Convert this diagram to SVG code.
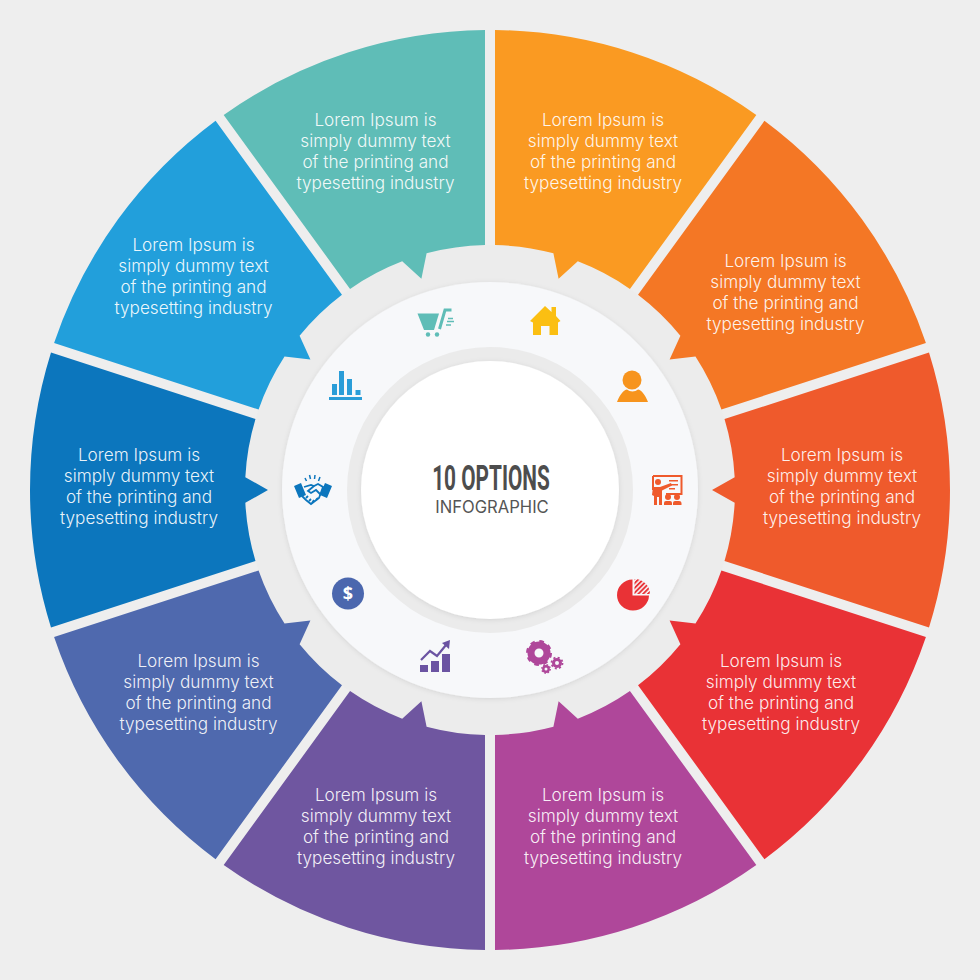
<svg xmlns="http://www.w3.org/2000/svg" width="980" height="980" viewBox="0 0 980 980">
<style>
.t{font-family:"Inter","Liberation Sans",sans-serif;font-size:17.2px;font-weight:300;fill:#fff;fill-opacity:.92;text-anchor:middle}
</style>
<defs>
<path id="seg" d="M495 245.05 L495 30.03 A460 460 0 0 1 756.32 114.94 L629.94 288.89 A245 245 0 0 0 577.8 261.27 L558.6 278.86 L553.41 253.35 A245 245 0 0 0 495 245.05 Z"/>
<filter id="sh" x="-10%" y="-10%" width="120%" height="120%"><feDropShadow dx="0" dy="1" stdDeviation="2.5" flood-color="#000" flood-opacity=".1"/></filter>
<pattern id="hatch" width="3.4" height="3.4" patternUnits="userSpaceOnUse" patternTransform="rotate(-45)"><rect width="3.4" height="1.9" fill="#e93236"/></pattern>
</defs>
<rect width="980" height="980" fill="#eeeeee"/>
<g id="hub">
<circle cx="490" cy="490" r="245" fill="#ececec"/>
<circle cx="490" cy="490" r="208" fill="#f7f8fa" filter="url(#sh)"/>
<circle cx="490" cy="490" r="143" fill="#ebebeb"/>
<circle cx="490" cy="490" r="129" fill="#fff" filter="url(#sh)"/>
<text x="491" y="490" font-family="Roboto,'Liberation Sans',sans-serif" font-weight="700" font-size="35" fill="#4d4d4d" text-anchor="middle" transform="translate(491 0) scale(.595 1) translate(-491 0)">10 OPTIONS</text>
<text x="492" y="513" font-family="Inter,'Liberation Sans',sans-serif" font-size="16.6" fill="#555" text-anchor="middle">INFOGRAPHIC</text>
</g>
<g id="option-1">
<use href="#seg" fill="#fa9a22"/>
<text class="t"><tspan x="603" y="126">Lorem Ipsum is</tspan><tspan x="603" y="147">simply dummy text</tspan><tspan x="603" y="168">of the printing and</tspan><tspan x="603" y="189">typesetting industry</tspan></text>
<path fill="#fbbf12" d="M545 306 L551.5 312 V307 H556 V316 L560.5 321 L558 322.5 V335 H549.5 V326 H541 V335 H533 V322.5 L530 321 Z"/>
</g>
<g id="option-2">
<use href="#seg" transform="rotate(36 490 490)" fill="#f47725"/>
<text class="t"><tspan x="785.5" y="267">Lorem Ipsum is</tspan><tspan x="785.5" y="288">simply dummy text</tspan><tspan x="785.5" y="309">of the printing and</tspan><tspan x="785.5" y="330">typesetting industry</tspan></text>
<g fill="#f7941d"><circle cx="632" cy="380" r="9.5"/><path d="M617 402 C620 394 624 390 627 389.500 C630 392 635 392 638 389.500 C641 390 645 394 648 402 Z"/></g>
</g>
<g id="option-3">
<use href="#seg" transform="rotate(72 490 490)" fill="#ef5a2c"/>
<text class="t"><tspan x="842" y="460.500">Lorem Ipsum is</tspan><tspan x="842" y="481.500">simply dummy text</tspan><tspan x="842" y="502.500">of the printing and</tspan><tspan x="842" y="523.500">typesetting industry</tspan></text>
<g fill="#ef5a2c">
<path d="M653 476 V490 M653 476 H681.500 V494 H666" fill="none" stroke="#ef5a2c" stroke-width="2"/>
<circle cx="658" cy="482" r="3"/>
<path d="M653 487 H660 L671 483 L672 485.500 L662 490.500 V505 H659 V497 H657 V505 H654 V496 L652 495 Z"/>
<rect x="669" y="480" width="9" height="1.500"/><rect x="669" y="484" width="9" height="1.500"/><rect x="669" y="488" width="6" height="1.500"/>
<circle cx="668" cy="497" r="3"/><circle cx="677" cy="497" r="3"/>
<path d="M664 505 V503 Q664 501 666 501 H670 Q672 501 672 503 V505 Z M673 505 V503 Q673 501 675 501 H679 Q681.500 501 681.500 503 V505 Z"/>
</g>
</g>
<g id="option-4">
<use href="#seg" transform="rotate(108 490 490)" fill="#e93236"/>
<text class="t"><tspan x="781" y="667">Lorem Ipsum is</tspan><tspan x="781" y="688">simply dummy text</tspan><tspan x="781" y="709">of the printing and</tspan><tspan x="781" y="730">typesetting industry</tspan></text>
<path fill="#e93236" d="M632.500 579.500 V595.500 H649 A16 15.500 0 1 1 632.500 579.500 Z"/>
<path fill="url(#hatch)" d="M634.500 579 A15.500 15.500 0 0 1 650 594 H634.500 Z"/>
</g>
<g id="option-5">
<use href="#seg" transform="rotate(144 490 490)" fill="#af479a"/>
<text class="t"><tspan x="603" y="801">Lorem Ipsum is</tspan><tspan x="603" y="822">simply dummy text</tspan><tspan x="603" y="843">of the printing and</tspan><tspan x="603" y="864">typesetting industry</tspan></text>
<g fill="none" stroke="#af479a">
<circle cx="539" cy="653" r="8" stroke-width="7"/>
<circle cx="539" cy="653" r="11.500" stroke-width="3" stroke-dasharray="4.500 4.530"/>
<circle cx="557" cy="663" r="3.500" stroke-width="3"/>
<circle cx="557" cy="663" r="5.500" stroke-width="1.800" stroke-dasharray="2 2.320"/>
<circle cx="546" cy="669" r="2.700" stroke-width="2.400"/>
<circle cx="546" cy="669" r="4.200" stroke-width="1.500" stroke-dasharray="1.500 1.800"/>
</g>
</g>
<g id="option-6">
<use href="#seg" transform="rotate(180 490 490)" fill="#6f56a0"/>
<text class="t"><tspan x="376" y="801">Lorem Ipsum is</tspan><tspan x="376" y="822">simply dummy text</tspan><tspan x="376" y="843">of the printing and</tspan><tspan x="376" y="864">typesetting industry</tspan></text>
<g fill="#6b53a2">
<rect x="420" y="665" width="8" height="7"/><rect x="431" y="661" width="8" height="11"/><rect x="442" y="654" width="8" height="18"/>
<path d="M421 660 L430 651 L437 656 L446 645" fill="none" stroke="#6b53a2" stroke-width="2.200"/>
<path d="M442 643 L450 640 L449 649 Z"/>
</g>
</g>
<g id="option-7">
<use href="#seg" transform="rotate(216 490 490)" fill="#4f69ae"/>
<text class="t"><tspan x="198.500" y="667">Lorem Ipsum is</tspan><tspan x="198.500" y="688">simply dummy text</tspan><tspan x="198.500" y="709">of the printing and</tspan><tspan x="198.500" y="730">typesetting industry</tspan></text>
<circle cx="348" cy="593.500" r="16" fill="#4b67ae"/>
<text x="348" y="600" font-family="'Open Sans','Liberation Sans',sans-serif" font-weight="700" font-size="18" fill="#fff" text-anchor="middle">$</text>
</g>
<g id="option-8">
<use href="#seg" transform="rotate(252 490 490)" fill="#0c76bd"/>
<text class="t"><tspan x="139" y="460.500">Lorem Ipsum is</tspan><tspan x="139" y="481.500">simply dummy text</tspan><tspan x="139" y="502.500">of the printing and</tspan><tspan x="139" y="523.500">typesetting industry</tspan></text>
<g fill="#0c76bd">
<path d="M294 486 L301 483 L306 495 L299 498 Z M332 486 L325 483 L320 495 L327 498 Z"/>
<g fill="none" stroke="#0c76bd" stroke-width="1.800">
<path d="M304 487 L311 485 L314 486 L318 484 L323 487 L319 498 L311 504 L306 500 L302 496"/>
<path d="M314 486 L308 491 L311 493 L316 490 L321 495"/>
<path d="M306 498 L308 496 M309 501 L311 499 M312 503 L314 500 M316 500 L318 498"/>
<path d="M305 478 L306.500 481 M309.500 475 L310.500 479 M315 475 L314.500 479 M320 477 L318.500 481" stroke-width="1.500"/>
</g>
</g>
</g>
<g id="option-9">
<use href="#seg" transform="rotate(288 490 490)" fill="#229fdb"/>
<text class="t"><tspan x="193.500" y="250.500">Lorem Ipsum is</tspan><tspan x="193.500" y="271.500">simply dummy text</tspan><tspan x="193.500" y="292.500">of the printing and</tspan><tspan x="193.500" y="313.500">typesetting industry</tspan></text>
<g fill="#2a9dd8">
<rect x="329" y="397" width="33" height="3"/>
<rect x="332" y="384" width="5" height="11"/><rect x="339" y="371" width="5" height="24"/><rect x="347" y="379" width="5" height="16"/><rect x="355.500" y="390" width="5" height="5"/>
</g>
</g>
<g id="option-10">
<use href="#seg" transform="rotate(324 490 490)" fill="#5fbdb7"/>
<text class="t"><tspan x="375.500" y="126">Lorem Ipsum is</tspan><tspan x="375.500" y="147">simply dummy text</tspan><tspan x="375.500" y="168">of the printing and</tspan><tspan x="375.500" y="189">typesetting industry</tspan></text>
<g fill="#5fbdb7">
<path d="M417.500 313.500 H439 L434 330 H424 Z"/>
<path d="M439.500 329 L445 310 H451.500" fill="none" stroke="#5fbdb7" stroke-width="3"/>
<circle cx="428" cy="334.500" r="2.200"/><circle cx="437" cy="334.500" r="2.200"/>
<path d="M448 318.500 H453 M447 321.500 H454 M446 325 H451" stroke="#5fbdb7" stroke-width="1.400"/>
</g>
</g>
</svg>
